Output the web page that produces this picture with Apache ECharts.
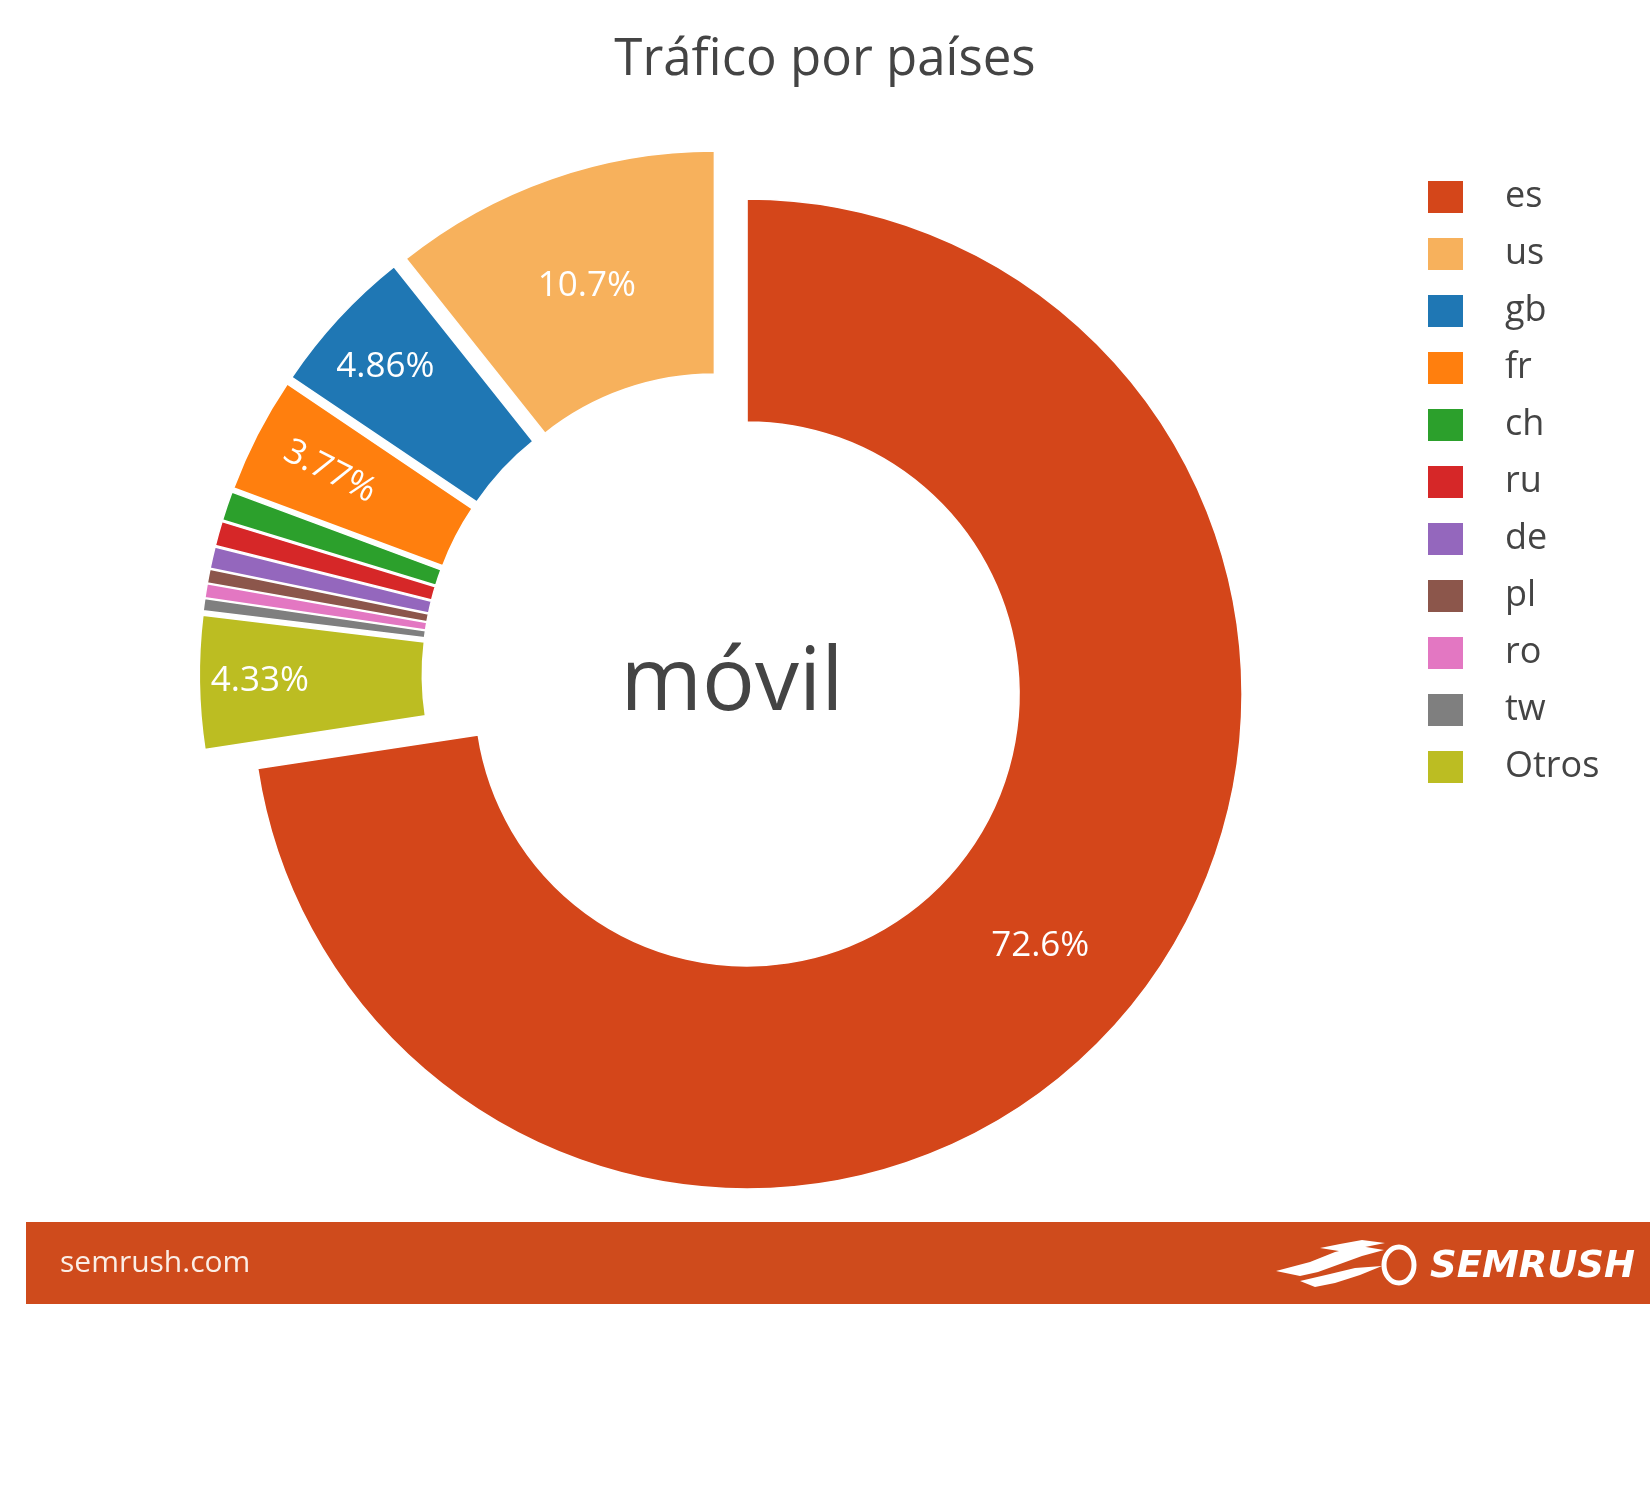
<!DOCTYPE html>
<html>
<head>
<meta charset="utf-8">
<script src="https://cdn.jsdelivr.net/npm/echarts@6/dist/echarts.min.js"></script>
<style>
html,body{margin:0;padding:0;background:#fff;}
#chart{width:1650px;height:1500px;}
</style>
</head>
<body>
<div id="chart"></div>
<script>
const titleText = 'Tráfico por países';
const centerText = 'móvil';
const categories = ['es', 'us', 'gb', 'fr', 'ch', 'ru', 'de', 'pl', 'ro', 'tw', 'Otros'];
const shares = [72.6, 10.7, 4.86, 3.77, 0.95, 0.8, 0.7, 0.45, 0.45, 0.4, 4.33];
const colors = ['#d4461a', '#f7b15c', '#1f77b4', '#ff7f0e', '#2ca02c', '#d62728', '#9467bd', '#8c564b', '#e377c2', '#7f7f7f', '#bcbd22'];
const labelled = ['es', 'us', 'gb', 'fr', 'Otros'];

const font = '"Open Sans", "Noto Sans", sans-serif';

// drawing order: es first, then the rest going round the other way
const order = [0, 10, 9, 8, 7, 6, 5, 4, 3, 2, 1];
// label placement tweaks (padding / blank lines nudge the text inside its slice)
const labelExtra = {
  us: { formatter: ' \n{c}%', lineHeight: 10 },
  gb: { formatter: '{c}%\n ', lineHeight: 50, padding: [0, 66, 0, 0] },
  fr: { rotate: -27, padding: [0, 54, 0, 0] },
  Otros: { padding: [0, 96, 0, 0] }
};
const pieData = order.map(i => {
  const name = categories[i];
  const show = labelled.indexOf(name) >= 0;
  const lab = Object.assign({ show: show }, labelExtra[name] || {});
  return {
    name: name,
    value: shares[i],
    selected: true,
    itemStyle: { color: colors[i] },
    label: lab
  };
});

const chart = echarts.init(document.getElementById('chart'), null, { renderer: 'canvas' });
chart.setOption({
  animation: false,
  backgroundColor: '#ffffff',
  title: {
    text: titleText,
    left: 'center',
    top: 35,
    padding: 0,
    textStyle: { fontFamily: font, fontSize: 51, fontWeight: 'normal', color: '#444444' }
  },
  legend: {
    orient: 'vertical',
    left: 1426,
    top: 179,
    padding: 0,
    itemWidth: 37,
    itemHeight: 34,
    itemGap: 21,
    icon: 'rect',
    selectedMode: false,
    data: categories,
    textStyle: { fontFamily: font, fontSize: 36, color: '#444444', padding: [0, 0, 0, 36] }
  },
  series: [{
    type: 'pie',
    center: [724.3, 674.4],
    radius: [272, 495],
    startAngle: 90,
    clockwise: true,
    selectedMode: 'multiple',
    selectedOffset: 30,
    avoidLabelOverlap: false,
    emphasis: { disabled: true },
    itemStyle: { borderColor: '#ffffff', borderWidth: 1.5 },
    label: {
      position: 'inside',
      formatter: '{c}%',
      color: '#ffffff',
      fontFamily: font,
      fontSize: 35
    },
    labelLine: { show: false },
    data: pieData
  }],
  graphic: [
    {
      type: 'text', x: 732, y: 685,
      style: { text: centerText, font: '88px "Open Sans", sans-serif', fill: '#444444', textAlign: 'center', textVerticalAlign: 'middle' }
    },
    {
      type: 'rect', shape: { x: 26, y: 1222, width: 1624, height: 82 },
      style: { fill: '#cf4b1c' }
    },
    {
      type: 'text', x: 60, y: 1263,
      style: { text: 'semrush.com', font: '30px "Open Sans", sans-serif', fill: '#fbeee6', textAlign: 'left', textVerticalAlign: 'middle' }
    },
    {
      type: 'text', x: 1430, y: 1267,
      style: { text: 'SEMRUSH', font: 'italic 900 37px "DejaVu Sans", sans-serif', fill: '#ffffff', textAlign: 'left', textVerticalAlign: 'middle' }
    },
    {
      type: 'ellipse', shape: { cx: 1399, cy: 1265, rx: 15, ry: 18 },
      style: { fill: 'none', stroke: '#ffffff', lineWidth: 5 }
    },
    {
      type: 'polygon',
      shape: { points: [[1276, 1271], [1310, 1262], [1335, 1252], [1360, 1246], [1384, 1250], [1362, 1256], [1340, 1264], [1318, 1272], [1300, 1276]] },
      style: { fill: '#ffffff' }
    },
    {
      type: 'polygon',
      shape: { points: [[1300, 1281], [1330, 1274], [1355, 1268], [1382, 1266], [1360, 1275], [1335, 1283], [1315, 1287]] },
      style: { fill: '#ffffff' }
    },
    {
      type: 'polygon',
      shape: { points: [[1320, 1248], [1340, 1244], [1362, 1240], [1385, 1243], [1365, 1247], [1345, 1252]] },
      style: { fill: '#ffffff' }
    }
  ]
});
</script>
</body>
</html>
